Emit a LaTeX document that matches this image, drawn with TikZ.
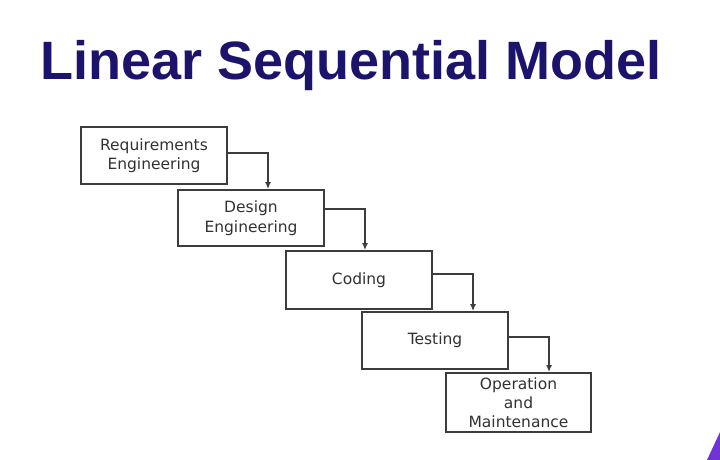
\documentclass[tikz,border=0pt]{standalone}
\usepackage{fontspec}
\setmainfont{DejaVu Sans}
\newfontfamily\titlefont{Liberation Sans}
\usetikzlibrary{arrows.meta}
\definecolor{titleblue}{RGB}{28,20,108}
\definecolor{boxgrey}{RGB}{60,60,60}
\definecolor{txtgrey}{RGB}{50,50,50}
\definecolor{cornerpurple}{RGB}{112,52,214}
\tikzset{
  stage/.style={draw=boxgrey, line width=1.8pt, minimum width=146pt, minimum height=57pt,
    inner sep=0pt, align=center, text=txtgrey, font=\fontsize{15.5}{19.5}\selectfont},
  flow/.style={draw=boxgrey, line width=1.4pt, -{Latex[length=7pt,width=6pt]}},
}
\begin{document}
\begin{tikzpicture}[x=1pt,y=-1pt]
\useasboundingbox (0,0) rectangle (720,460);
\fill[white] (0,0) rectangle (720,460);
\node[anchor=base, text=titleblue, font=\titlefont\bfseries\fontsize{54}{60}\selectfont] (title) at (351,80) {Linear Sequential Model};
\node[stage] (b1) at (154,155.5) {Requirements\\Engineering};
\node[stage, minimum height=56pt] (b2) at (251,218) {Design\\Engineering};
\node[stage, minimum height=58pt] (b3) at (359,280) {Coding};
\node[stage] (b4) at (435,340.5) {Testing};
\node[stage, minimum width=145pt, minimum height=59pt, font=\fontsize{15.5}{19}\selectfont] (b5) at (518.5,402.5) {Operation\\and\\Maintenance};
\draw[flow] ([yshift=2.5pt]b1.east) -| ([xshift=17pt]b2.north);
\draw[flow] ([yshift=9pt]b2.east) -| ([xshift=6pt]b3.north);
\draw[flow] ([yshift=6pt]b3.east) -| ([xshift=38pt]b4.north);
\draw[flow] ([yshift=3.5pt]b4.east) -| ([xshift=30.5pt]b5.north);
\fill[cornerpurple] (707,460) -- (720,460) -- (720,432) -- cycle;
\end{tikzpicture}
\end{document}
